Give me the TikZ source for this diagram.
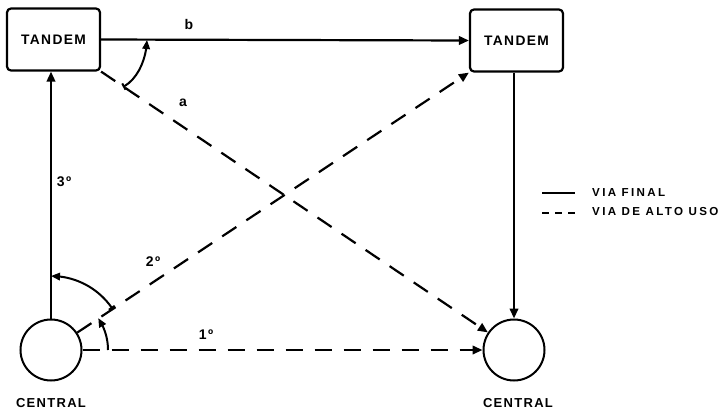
\documentclass[tikz,border=0pt]{standalone}
\usepackage{fontspec}
\setmainfont{Liberation Sans}[LetterSpace=10]
\newfontfamily\legfont{Liberation Sans}[LetterSpace=20]
\usetikzlibrary{arrows.meta,bending,calc}
\tikzset{
  boxnode/.style={draw,line width=2.2pt,rounded corners=4pt,minimum width=93pt,minimum height=62pt,inner sep=0pt,font=\fontsize{13.8}{14}\selectfont\bfseries},
  centralnode/.style={draw,circle,line width=2pt,minimum size=61pt,inner sep=0pt},
  lbl/.style={font=\fontsize{13}{13}\selectfont\bfseries,inner sep=0pt},
  small/.style={font=\fontsize{14}{14}\selectfont\bfseries,inner sep=0pt},
  tip/.style={-{Triangle[length=10pt,width=8.5pt]}},
  solidline/.style={line width=2.2pt,tip},
  dashline/.style={line width=2.2pt,dash pattern=on 17pt off 12pt,tip},
  arcline/.style={line width=2pt,-{Triangle[length=9pt,width=7.5pt,flex]}},
  bararc/.style={line width=2pt,{Bar[width=7pt]}-{Triangle[length=9pt,width=7.5pt,flex]}},
  legtext/.style={anchor=west,inner sep=0pt,font=\legfont\fontsize{11.6}{12}\selectfont\bfseries}
}
\begin{document}
\begin{tikzpicture}[x=1pt,y=-1pt]
\useasboundingbox (0,0) rectangle (726,410);
% nodes
\node[boxnode] (lt) at (53.5,39.5) {TANDEM};
\node[boxnode] (rt) at (516.5,40.5) {TANDEM};
\node[centralnode] (lc) at (51,350) {};
\node[centralnode] (rc) at (514,350) {};
\node[lbl] (lcl) at (51,403) {CENTRAL};
\node[lbl] (rcl) at (518,403) {CENTRAL};
% connectors
\draw[solidline] (lt.east) -- (rt.west);
\draw[solidline] (lc.north) -- (lc.north |- lt.south);
\draw[solidline] (rc.north |- rt.south) -- (rc.north);
\draw[dashline] (lt.south east) -- (rc);
\draw[dashline] (lc) -- (rt.south west);
\draw[dashline] (lc) -- (rc);
% labels
\node[small] (lb) at (189,24) {b};
\node[small] (la) at (183,103) {a};
\node[small] (l3) at (64,182) {3º};
\node[small] (l2) at (153,262) {2º};
\node[small] (l1) at (206,335) {1º};
% angle arcs
\coordinate (t1) at (123,87);
\coordinate (t2) at (147,40);
\draw[bararc] (t1) .. controls (138.5,78.7) and (146.5,58) .. (t2);
\path (lc) ++(-34:74) coordinate (g1);
\draw[bararc] (g1) arc[start angle=-34,end angle=-90,radius=74];
\path (lc) ++(0:57) coordinate (h1);
\draw[arcline] (h1) arc[start angle=0,end angle=-34,radius=57];
% legend
\coordinate (ls1) at (542,193);
\coordinate (ls2) at (575,193);
\coordinate (ld1) at (542,213);
\coordinate (ld2) at (575,213);
\draw[line width=1.6pt] (ls1) -- (ls2);
\draw[line width=1.6pt,dash pattern=on 7pt off 6pt] (ld1) -- (ld2);
\node[legtext] (lg1) at (592,193) {VIA FINAL};
\node[legtext] (lg2) at (592,212) {VIA DE ALTO USO};
\end{tikzpicture}
\end{document}
